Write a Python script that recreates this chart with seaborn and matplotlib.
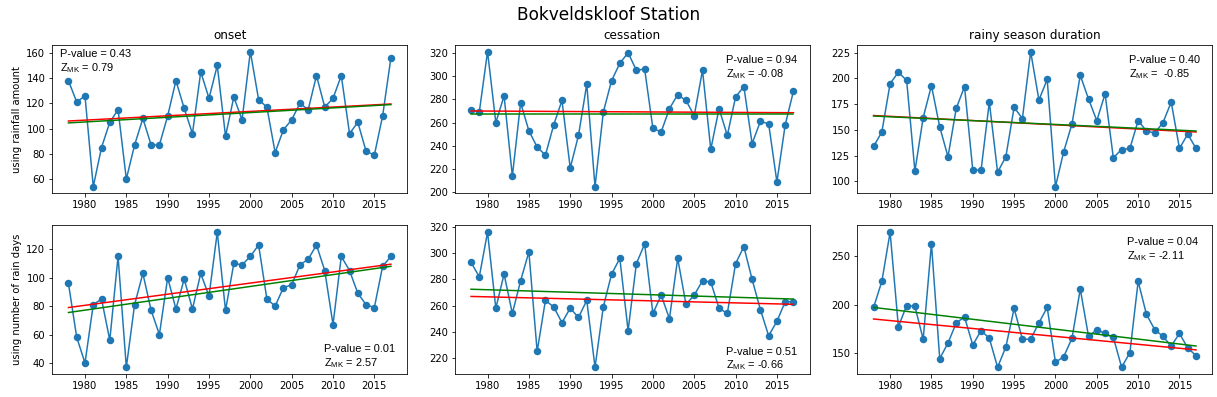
import numpy as np
import pandas as pd
import matplotlib
matplotlib.use("Agg")
import matplotlib.pyplot as plt
from matplotlib.ticker import MultipleLocator
import seaborn as sns

# years of record
years = list(range(1978, 2018))

# rainy season values using rainfall amount
onset_amount = [138, 121, 126, 54, 85, 105, 115, 60, 87, 108, 87, 87, 110, 138, 116, 96, 145, 124, 150, 94,
                125, 107, 161, 123, 117, 81, 99, 107, 120, 115, 142, 117, 124, 142, 96, 105, 82, 79, 110, 156]
cessation_amount = [271, 269, 321, 260, 283, 214, 277, 253, 239, 232, 258, 279, 221, 249, 293, 205, 269, 296, 311, 320,
                    305, 306, 255, 252, 272, 284, 279, 266, 305, 237, 272, 249, 282, 291, 242, 261, 259, 209, 258, 287]
duration_amount = [134, 148, 195, 206, 198, 110, 162, 193, 153, 124, 171, 192, 111, 111, 177, 109, 124, 172, 161, 226,
                   179, 199, 95, 129, 156, 203, 180, 159, 185, 123, 131, 132, 159, 149, 147, 157, 177, 132, 146, 132]

# rainy season values using number of rain days
onset_days = [96, 58, 40, 81, 85, 56, 115, 37, 81, 103, 77, 60, 100, 78, 99, 78, 103, 87, 132, 77,
              110, 109, 115, 123, 85, 80, 93, 95, 109, 113, 123, 105, 67, 115, 105, 89, 81, 79, 108, 115]
cessation_days = [293, 282, 316, 258, 284, 254, 279, 301, 225, 264, 259, 247, 258, 251, 264, 213, 259, 284, 296, 241,
                  292, 307, 254, 268, 250, 296, 261, 268, 279, 278, 258, 254, 292, 305, 280, 257, 237, 248, 263, 263]
duration_days = [197, 224, 275, 177, 199, 198, 164, 263, 144, 160, 181, 187, 158, 173, 165, 135, 156, 196, 164, 164,
                 181, 197, 140, 146, 165, 216, 167, 174, 170, 166, 135, 150, 224, 190, 174, 167, 157, 170, 155, 147]

# trend lines (value at first and last year), red and green
red_trend = [[106, 119.5], [270, 268.5], [164, 148], [79, 109.5], [267, 261], [185, 153]]
green_trend = [[104.5, 119], [267.5, 267.5], [163.5, 149], [75.5, 108], [272.5, 265], [197, 157]]

p_values = ["0.43", "0.94", "0.40", "0.01", "0.51", "0.04"]
z_mk = ["0.79", "-0.08", " -0.85", "2.57", "-0.66", "-2.11"]

titles = ["onset", "cessation", "rainy season duration"]
row_labels = ["using rainfall amount", "using number of rain days"]

series = [onset_amount, cessation_amount, duration_amount, onset_days, cessation_days, duration_days]

plt.rcParams["mathtext.fontset"] = "custom"
plt.rcParams["mathtext.rm"] = "Liberation Sans"
plt.rcParams["mathtext.it"] = "Liberation Sans"

fig, axes = plt.subplots(2, 3, figsize=(1217 / 72, 397 / 72), dpi=72)
fig.subplots_adjust(left=0.043, right=0.996, top=0.887, bottom=0.058, wspace=0.135, hspace=0.216)

# text placement per panel: (x, y, va)
text_pos = [(0.022, 0.97, "top"), (0.765, 0.93, "top"), (0.765, 0.93, "top"),
            (0.765, 0.03, "bottom"), (0.765, 0.01, "bottom"), (0.76, 0.92, "top")]

for i, ax in enumerate(axes.flat):
    df = pd.DataFrame({"year": years, "value": series[i]})
    sns.lineplot(data=df, x="year", y="value", ax=ax, marker="o", color="tab:blue",
                 markersize=7.5, markeredgewidth=0, linewidth=1.5)
    ends = [years[0], years[-1]]
    sns.lineplot(x=ends, y=red_trend[i], ax=ax, color="red", linewidth=1.5)
    sns.lineplot(x=ends, y=green_trend[i], ax=ax, color="green", linewidth=1.5)
    ax.set_xlabel("")
    ax.set_ylabel("")
    x, y, va = text_pos[i]
    ax.text(x, y, "P-value = " + p_values[i] + "\nZ$_{\\rm MK}$ = " + z_mk[i],
            transform=ax.transAxes, va=va, ha="left", fontsize=11, family="Liberation Sans")

# duration (rain days) panel uses 50-step ticks
axes[1, 2].yaxis.set_major_locator(MultipleLocator(50))

for j, t in enumerate(titles):
    axes[0, j].set_title(t, fontsize=12)
for r, lab in enumerate(row_labels):
    axes[r, 0].set_ylabel(lab, fontsize=10)

fig.suptitle("Bokveldskloof Station", fontsize=17, y=0.985)

plt.savefig("out.png", dpi=72)
